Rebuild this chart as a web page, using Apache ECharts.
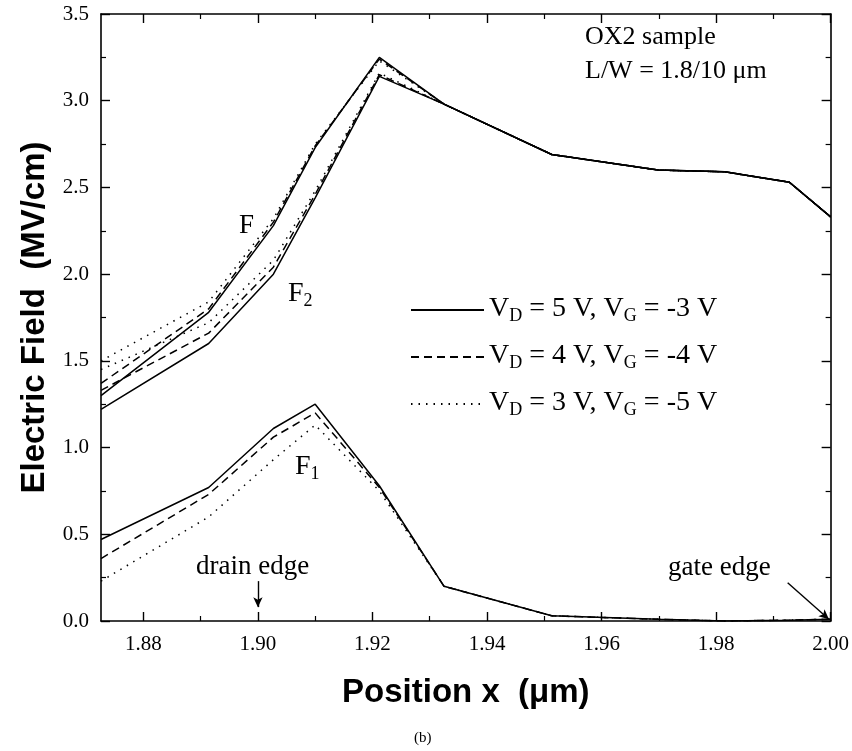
<!DOCTYPE html>
<html>
<head>
<meta charset="utf-8">
<script src="https://cdn.jsdelivr.net/npm/echarts@6/dist/echarts.min.js"></script>
<style>
  html, body { margin: 0; padding: 0; background: #fff; }
  #chart { width: 852px; height: 751px; }
</style>
</head>
<body>
<div id="chart"></div>
<script>
// mesh positions (um)
const posX = [1.8726, 1.8914, 1.9027, 1.9100, 1.9212, 1.9325, 1.9513, 1.9699, 1.9815, 1.9928, 2.0000];

// total field F
const fVd5 = [1.30, 1.78, 2.28, 2.73, 3.25, 2.98, 2.69, 2.60, 2.59, 2.53, 2.33];
const fVd4 = [1.37, 1.80, 2.30, 2.74, 3.24, 2.98, 2.69, 2.60, 2.59, 2.53, 2.33];
const fVd3 = [1.50, 1.84, 2.32, 2.75, 3.23, 2.98, 2.69, 2.60, 2.59, 2.53, 2.33];
// F2
const f2Vd5 = [1.22, 1.60, 2.00, 2.44, 3.14, 2.98, 2.69, 2.60, 2.59, 2.53, 2.33];
const f2Vd4 = [1.33, 1.66, 2.04, 2.46, 3.15, 2.98, 2.69, 2.60, 2.59, 2.53, 2.33];
const f2Vd3 = [1.45, 1.72, 2.08, 2.48, 3.16, 2.98, 2.69, 2.60, 2.59, 2.53, 2.33];
// F1
const f1Vd5 = [0.47, 0.77, 1.11, 1.25, 0.78, 0.20, 0.03, 0.01, 0.00, 0.005, 0.01];
const f1Vd4 = [0.36, 0.73, 1.06, 1.20, 0.77, 0.20, 0.03, 0.01, 0.00, 0.005, 0.01];
const f1Vd3 = [0.23, 0.60, 0.93, 1.13, 0.75, 0.20, 0.03, 0.01, 0.00, 0.005, 0.01];

const xMajor = [1.88, 1.90, 1.92, 1.94, 1.96, 1.98, 2.00];
const xMinor = [1.89, 1.91, 1.93, 1.95, 1.97, 1.99];

const biasVd = [5, 4, 3];
const biasVg = [-3, -4, -5];
const legendNames = ['vd5', 'vd4', 'vd3'];

const serif = 'Liberation Serif';
const sans = 'Liberation Sans';

const lineTypes = {
  vd5: 'solid',
  vd4: [8, 5],
  vd3: [1.5, 6]
};

function toPairs(ys) {
  return posX.map(function (x, i) { return [x, ys[i]]; });
}

function makeSeries(name, ys) {
  return {
    name: name,
    type: 'line',
    data: toPairs(ys),
    symbol: 'none',
    silent: true,
    lineStyle: { color: '#000', width: 1.5, type: lineTypes[name] },
    itemStyle: { color: '#000' }
  };
}

const series = [
  makeSeries('vd5', fVd5), makeSeries('vd4', fVd4), makeSeries('vd3', fVd3),
  makeSeries('vd5', f2Vd5), makeSeries('vd4', f2Vd4), makeSeries('vd3', f2Vd3),
  makeSeries('vd5', f1Vd5), makeSeries('vd4', f1Vd4), makeSeries('vd3', f1Vd3)
];

// drain / gate edge arrows
series[6].markLine = {
  silent: true,
  symbol: ['none', 'arrow'],
  symbolSize: [7, 10],
  label: { show: false },
  lineStyle: { color: '#000', width: 1.4, type: 'solid' },
  data: [
    [{ coord: [1.900, 0.23] }, { coord: [1.900, 0.08] }],
    [{ coord: [1.9925, 0.22] }, { coord: [1.9997, 0.01] }]
  ]
};

const legendText = {};
legendNames.forEach(function (n, i) {
  legendText[n] = '{a|V}{s|D}{a| = ' + biasVd[i] + ' V, V}{s|G}{a| = ' + biasVg[i] + ' V}';
});

const subRich = {
  a: { fontFamily: serif, fontSize: 28, color: '#000', lineHeight: 30, padding: [0, 0, 7, 0], verticalAlign: 'top' },
  s: { fontFamily: serif, fontSize: 18, color: '#000', lineHeight: 20, verticalAlign: 'bottom' }
};

const tickLabel = { fontFamily: serif, fontSize: 21, color: '#000' };
const axisLineStyle = { lineStyle: { color: '#000', width: 1.6 } };
const xRange = { type: 'value', min: 1.8726, max: 2.0 };

const option = {
  animation: false,
  backgroundColor: '#fff',
  grid: { left: 101, right: 20, top: 14, bottom: 130 },
  legend: {
    data: legendNames,
    orient: 'vertical',
    left: 405,
    top: 290,
    itemWidth: 73,
    itemHeight: 14,
    itemGap: 12,
    selectedMode: false,
    itemStyle: { opacity: 0 },
    formatter: function (name) { return legendText[name]; },
    textStyle: { color: '#000', padding: [0, 0, 0, 0], rich: subRich }
  },
  xAxis: [
    Object.assign({}, xRange, {
      position: 'bottom',
      name: 'Position x  (\u03bcm)',
      nameLocation: 'middle',
      nameGap: 55,
      nameTextStyle: { fontFamily: sans, fontSize: 33, fontWeight: 'bold', color: '#000' },
      axisLine: axisLineStyle,
      axisTick: { inside: true, length: 9, customValues: xMajor, lineStyle: { color: '#000', width: 1.4 } },
      axisLabel: Object.assign({ customValues: xMajor, margin: 13, formatter: function (v) { return v.toFixed(2); } }, tickLabel),
      splitLine: { show: false }
    }),
    Object.assign({}, xRange, {
      position: 'bottom',
      axisLine: { show: false },
      axisTick: { inside: true, length: 5, customValues: xMinor, lineStyle: { color: '#000', width: 1.2 } },
      axisLabel: { show: false },
      splitLine: { show: false }
    }),
    Object.assign({}, xRange, {
      position: 'top',
      axisLine: axisLineStyle,
      axisTick: { inside: true, length: 9, customValues: xMajor, lineStyle: { color: '#000', width: 1.4 } },
      axisLabel: { show: false },
      splitLine: { show: false }
    }),
    Object.assign({}, xRange, {
      position: 'top',
      axisLine: { show: false },
      axisTick: { inside: true, length: 5, customValues: xMinor, lineStyle: { color: '#000', width: 1.2 } },
      axisLabel: { show: false },
      splitLine: { show: false }
    })
  ],
  yAxis: [
    {
      type: 'value',
      position: 'left',
      min: 0,
      max: 3.5,
      interval: 0.5,
      name: 'Electric Field  (MV/cm)',
      nameLocation: 'middle',
      nameGap: 47,
      nameTextStyle: { fontFamily: sans, fontSize: 33, fontWeight: 'bold', color: '#000' },
      axisLine: axisLineStyle,
      axisTick: { inside: true, length: 9, lineStyle: { color: '#000', width: 1.4 } },
      minorTick: { show: true, splitNumber: 2, length: 5, lineStyle: { color: '#000', width: 1.2 } },
      axisLabel: Object.assign({ margin: 12, formatter: function (v) { return v.toFixed(1); } }, tickLabel),
      splitLine: { show: false }
    },
    {
      type: 'value',
      position: 'right',
      min: 0,
      max: 3.5,
      interval: 0.5,
      axisLine: axisLineStyle,
      axisTick: { inside: true, length: 9, lineStyle: { color: '#000', width: 1.4 } },
      minorTick: { show: true, splitNumber: 2, length: 5, lineStyle: { color: '#000', width: 1.2 } },
      axisLabel: { show: false },
      splitLine: { show: false }
    }
  ],
  graphic: [
    { type: 'text', left: 585, top: 24, style: { text: 'OX2 sample', font: '26px "Liberation Serif"', fill: '#000' } },
    { type: 'text', left: 585, top: 58, style: { text: 'L/W = 1.8/10 \u03bcm', font: '26px "Liberation Serif"', fill: '#000' } },
    { type: 'text', left: 239, top: 212, style: { text: 'F', font: '27px "Liberation Serif"', fill: '#000' } },
    { type: 'text', left: 288, top: 280, style: { text: '{a|F}{s|2}', rich: subRich } },
    { type: 'text', left: 295, top: 453, style: { text: '{a|F}{s|1}', rich: subRich } },
    { type: 'text', left: 196, top: 553, style: { text: 'drain edge', font: '27px "Liberation Serif"', fill: '#000' } },
    { type: 'text', left: 668, top: 554, style: { text: 'gate edge', font: '27px "Liberation Serif"', fill: '#000' } },
    { type: 'text', left: 414, top: 731, style: { text: '(b)', font: '15px "Liberation Serif"', fill: '#000' } }
  ],
  series: series
};

const myChart = echarts.init(document.getElementById('chart'));
myChart.setOption(option);
</script>
</body>
</html>
